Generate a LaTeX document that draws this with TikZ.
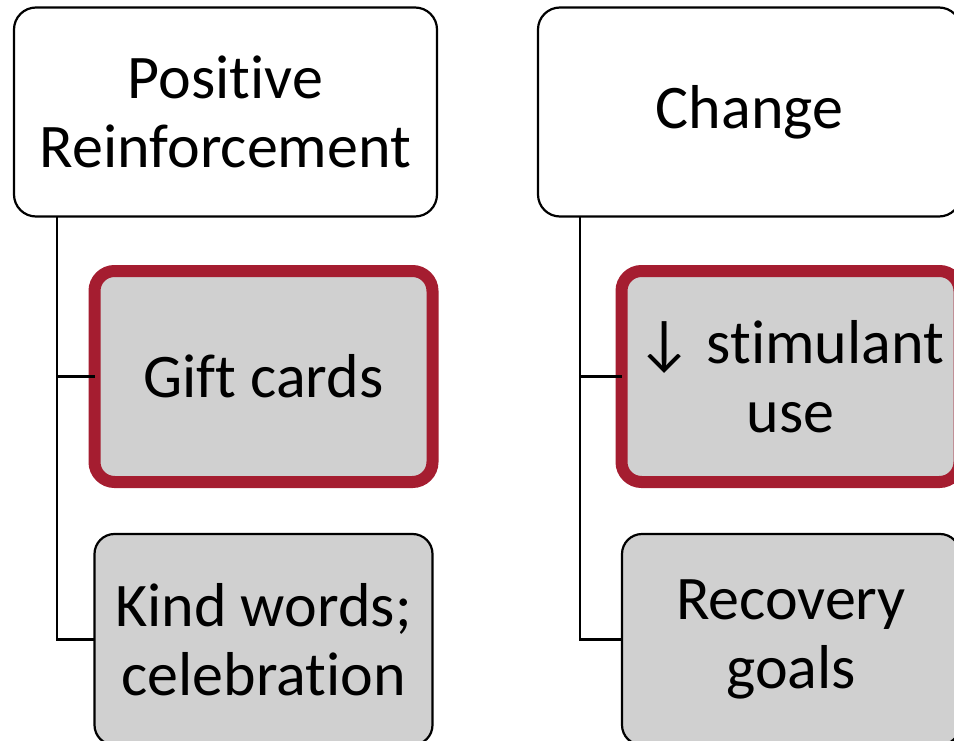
\documentclass[tikz,border=0pt]{standalone}
\usepackage{fontspec}
\setmainfont{Carlito}[Ligatures=NoCommon]
\usetikzlibrary{positioning}
\definecolor{boxred}{HTML}{A51D30}
\definecolor{boxgray}{HTML}{D0D0D0}

\begin{document}
\begin{tikzpicture}[x=1pt,y=-1pt,
    every node/.style={font=\fontsize{62}{69}\selectfont,align=center,inner sep=0pt,outer sep=0pt},
    head/.style={draw=black,line width=2.2pt,rounded corners=22pt,fill=white,
        minimum width=423pt,minimum height=209pt},
    item/.style={draw=black,line width=2.2pt,rounded corners=20pt,fill=boxgray,
        minimum width=338pt,minimum height=211pt},
    hot/.style={item,draw=boxred,line width=12pt},
    link/.style={draw=black,line width=2.2pt}]
    \useasboundingbox (0,0) rectangle (954,741);
    \clip (0,0) rectangle (954,741);
    % top row
    \node[head] (posrf) at (225.5,112) {Positive\\Reinforcement};
    \node[head] (change) at (749.5,112) {Change};
    % left column
    \node[hot] (gift) at (263.5,376.5) {Gift cards};
    \node[item] (kind) at (263.5,639.5) {Kind words;\\celebration};
    % right column
    \node[hot] (stim) at (790.5,376.5) {↓ stimulant\\use};
    \node[item] (goals) at (791,639.5) {Recovery\\goals};
    % tree lines
    \coordinate (stemL) at ([xshift=43pt]posrf.south west);
    \draw[link] (stemL) |- (kind.west);
    \draw[link] (stemL |- gift.west) -- (gift.west);
    \coordinate (stemR) at ([xshift=42pt]change.south west);
    \draw[link] (stemR) |- (goals.west);
    \draw[link] (stemR |- stim.west) -- (stim.west);
\end{tikzpicture}
\end{document}
